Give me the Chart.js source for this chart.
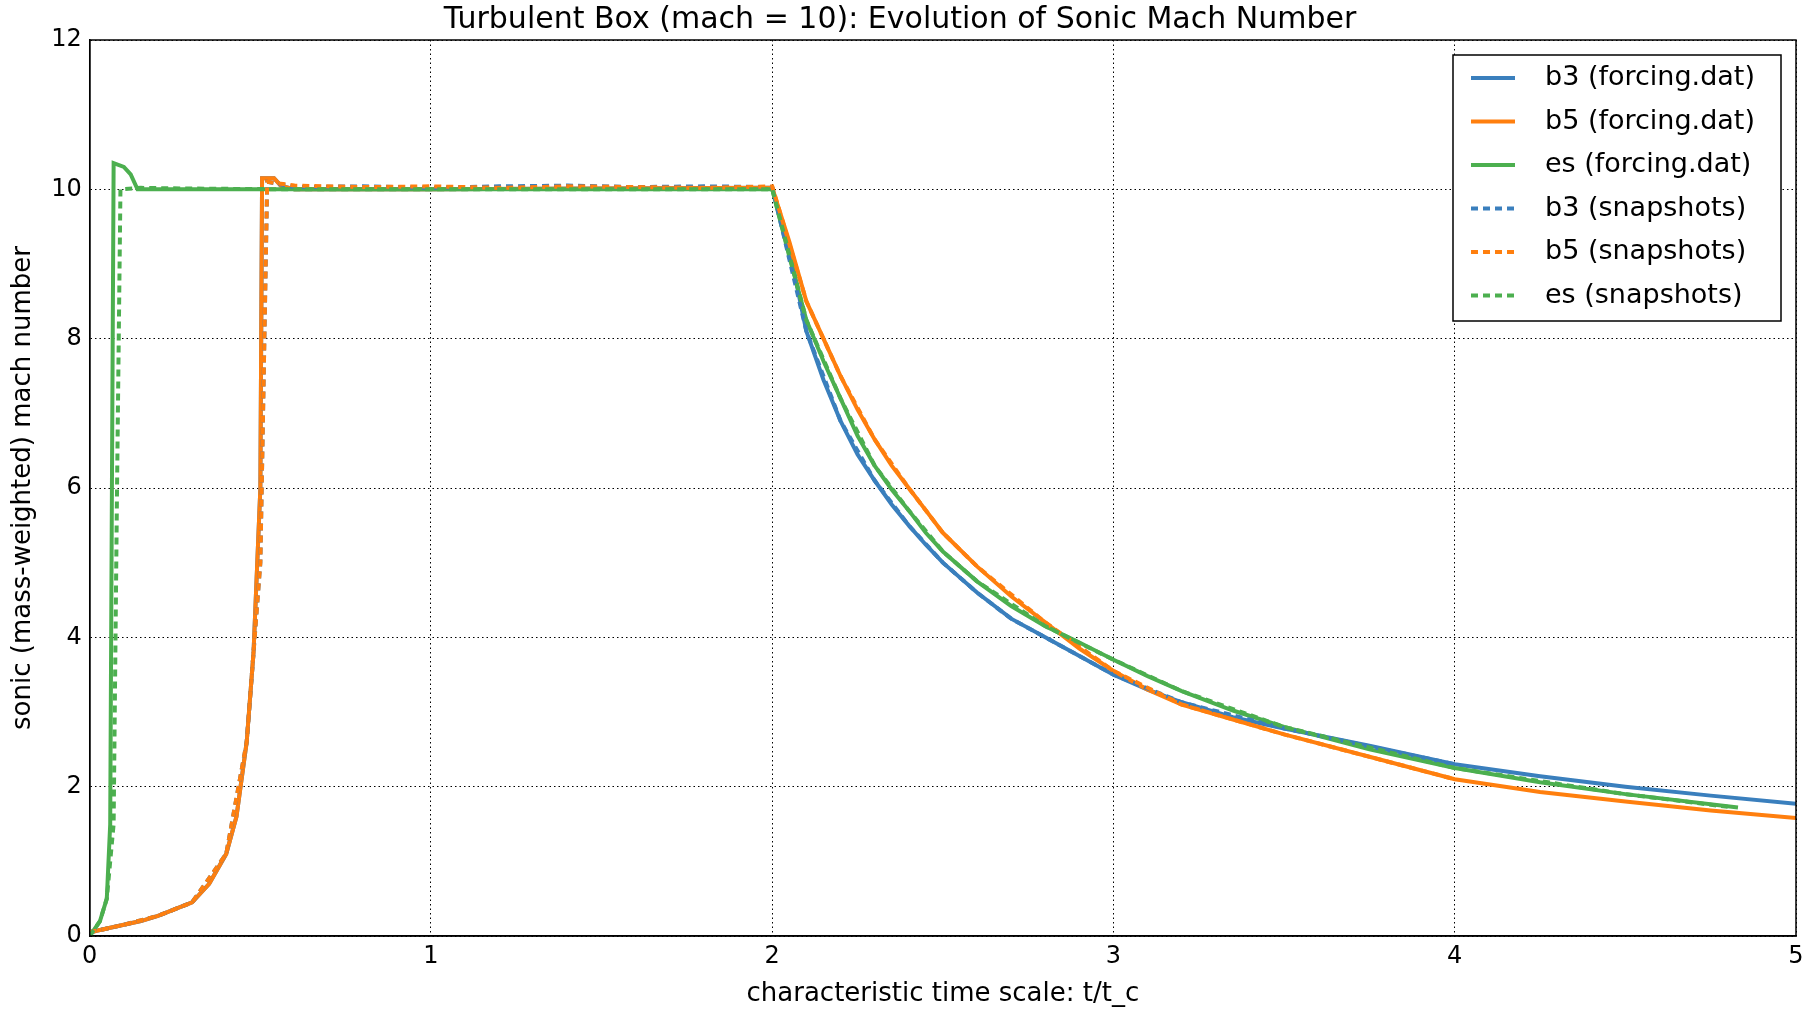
<!DOCTYPE html>
<html><head><meta charset="utf-8">
<script src="https://cdn.jsdelivr.net/npm/chart.js@4/dist/chart.umd.min.js"></script>
<style>html,body{margin:0;background:#fff}#wrap{width:1812px;height:1016px}</style>
</head><body><div id="wrap"><canvas id="c"></canvas></div>
<script>
const xTicks = [0, 1, 2, 3, 4, 5];
const yTicks = [0, 2, 4, 6, 8, 10, 12];

const b3Forcing = [[0,0.05],[0.1,0.15],[0.15,0.2],[0.2,0.27],[0.3,0.45],[0.35,0.7],[0.4,1.1],[0.43,1.6],[0.46,2.6],[0.48,3.8],[0.5,6],[0.505,10.15],[0.54,10.15],[0.56,10.05],[0.6,10.0],[1,10.0],[2,10.02],
  [2.05,9.2],[2.1,8.1],[2.15,7.45],[2.2,6.9],[2.25,6.45],[2.3,6.1],[2.35,5.78],[2.4,5.5],[2.45,5.24],[2.5,5.0],[2.6,4.6],[2.7,4.25],[2.8,4.0],[2.9,3.75],[3.0,3.5],[3.1,3.3],[3.2,3.13],[3.35,2.93],[3.5,2.78],[3.75,2.55],[4,2.3],[4.25,2.14],[4.5,2.0],[4.75,1.88],[5,1.77]];
const b5Forcing = [[0,0.05],[0.1,0.15],[0.15,0.2],[0.2,0.27],[0.3,0.45],[0.35,0.7],[0.4,1.1],[0.43,1.6],[0.46,2.6],[0.48,3.8],[0.5,6],[0.505,10.15],[0.54,10.15],[0.56,10.05],[0.6,10.0],[1,10.0],[2,10.02],
  [2.05,9.3],[2.1,8.5],[2.15,8.0],[2.2,7.5],[2.25,7.05],[2.3,6.65],[2.35,6.3],[2.4,6.0],[2.45,5.7],[2.5,5.4],[2.6,4.95],[2.7,4.55],[2.8,4.2],[2.9,3.85],[3.0,3.55],[3.1,3.3],[3.2,3.1],[3.35,2.9],[3.5,2.7],[3.75,2.4],[4,2.1],[4.25,1.93],[4.5,1.8],[4.75,1.68],[5,1.58]];
const esForcing = [[0,0],[0.03,0.2],[0.05,0.5],[0.06,1.5],[0.065,6],[0.07,10.35],[0.1,10.3],[0.12,10.2],[0.14,10.0],[2,10.0],
  [2.05,9.1],[2.1,8.25],[2.15,7.7],[2.2,7.2],[2.25,6.7],[2.3,6.3],[2.35,5.98],[2.4,5.7],[2.45,5.4],[2.5,5.15],[2.6,4.75],[2.7,4.42],[2.8,4.15],[2.9,3.93],[3.0,3.7],[3.1,3.48],[3.2,3.28],[3.35,3.02],[3.5,2.8],[3.75,2.5],[4,2.25],[4.25,2.06],[4.5,1.9],[4.83,1.72]];
const b3Snap = [[0,0.05],[0.1,0.15],[0.2,0.27],[0.3,0.45],[0.4,1.1],[0.46,2.6],[0.5,5],[0.52,10.1],[0.6,10.03],[0.8,10.04],[1.0,10.02],[1.2,10.04],[1.4,10.05],[1.6,10.03],[1.8,10.04],[2,10.03],
  [2.1,8.1],[2.2,6.9],[2.3,6.1],[2.4,5.5],[2.5,5.0],[2.6,4.6],[2.7,4.25],[2.8,4.0],[3.0,3.5],[3.2,3.13],[3.5,2.78],[4,2.3]];
const b5Snap = [[0,0.05],[0.1,0.15],[0.2,0.27],[0.3,0.45],[0.4,1.1],[0.46,2.6],[0.5,5],[0.52,10.1],[0.6,10.05],[0.8,10.03],[1.0,10.04],[1.2,10.02],[1.4,10.04],[1.6,10.03],[1.8,10.02],[2,10.04],
  [2.1,8.5],[2.2,7.5],[2.3,6.65],[2.4,6.0],[2.5,5.4],[2.6,4.95],[2.8,4.2],[3.0,3.55],[3.2,3.1],[3.5,2.7],[4,2.1]];
const esSnap = [[0,0],[0.03,0.2],[0.05,0.5],[0.07,1.5],[0.08,6],[0.09,10.0],[0.15,10.02],[0.3,10.01],[0.6,10.0],[1,10.0],[1.5,10.0],[2,10.0],
  [2.1,8.25],[2.2,7.2],[2.3,6.3],[2.4,5.7],[2.5,5.15],[2.6,4.75],[2.8,4.15],[3.0,3.7],[3.2,3.28],[3.5,2.8],[4,2.25],[4.5,1.9],[4.8,1.73]];

const blue = '#3a7fbd', orange = '#ff7f0e', green = '#4caf4f';
const pts = a => a.map(p => ({x: p[0], y: p[1]}));
const ds = (label, data, color, dash, order) => ({label, data: pts(data), borderColor: color, borderWidth: 4,
  borderDash: dash ? [7, 5] : [], pointRadius: 0, fill: false, tension: 0, order});

const legendBox = {
  id: 'legendBox',
  afterDraw(chart) {
    const {ctx, chartArea: a} = chart;
    const w = 328, h = 266, x = a.right - w - 15, y = a.top + 15;
    ctx.save();
    ctx.fillStyle = '#fff'; ctx.fillRect(x, y, w, h);
    ctx.strokeStyle = '#000'; ctx.lineWidth = 1.5; ctx.strokeRect(x, y, w, h);
    ctx.font = '27px "DejaVu Sans"'; ctx.textBaseline = 'middle';
    chart.data.datasets.forEach((d, i) => {
      const ly = y + 23 + i * 43.5;
      ctx.strokeStyle = d.borderColor; ctx.lineWidth = 4;
      ctx.setLineDash(d.borderDash); ctx.beginPath();
      ctx.moveTo(x + 18, ly); ctx.lineTo(x + 62, ly); ctx.stroke();
      ctx.setLineDash([]); ctx.fillStyle = '#000';
      ctx.fillText(d.label, x + 92, ly);
    });
    ctx.restore();
  }
};

new Chart(document.getElementById('c'), {
  type: 'line',
  data: {datasets: [
    ds('b3 (forcing.dat)', b3Forcing, blue, false, 6),
    ds('b5 (forcing.dat)', b5Forcing, orange, false, 5),
    ds('es (forcing.dat)', esForcing, green, false, 4),
    ds('b3 (snapshots)', b3Snap, blue, true, 3),
    ds('b5 (snapshots)', b5Snap, orange, true, 2),
    ds('es (snapshots)', esSnap, green, true, 1)
  ]},
  options: {
    responsive: true, maintainAspectRatio: false, animation: false,
    layout: {padding: {left: 4, right: 16, top: 0, bottom: 4}},
    plugins: {
      legend: {display: false}, tooltip: {enabled: false},
      title: {display: true, text: 'Turbulent Box (mach = 10): Evolution of Sonic Mach Number',
        color: '#000', font: {family: 'DejaVu Sans', size: 30, weight: 'normal'}, padding: {top: 2, bottom: 2}}
    },
    scales: {
      x: {type: 'linear', min: 0, max: 5,
        afterBuildTicks: s => { s.ticks = xTicks.map(v => ({value: v})); },
        ticks: {color: '#000', font: {family: 'DejaVu Sans', size: 24}, padding: 6},
        grid: {color: '#000', lineWidth: 1, drawTicks: false},
        border: {color: '#000', width: 1.5, dash: [1.5, 3]},
        title: {display: true, text: 'characteristic time scale: t/t_c', color: '#000', font: {family: 'DejaVu Sans', size: 26}, padding: 2}
      },
      y: {min: 0, max: 12,
        afterBuildTicks: s => { s.ticks = yTicks.map(v => ({value: v})); },
        ticks: {color: '#000', font: {family: 'DejaVu Sans', size: 24}, padding: 8},
        grid: {color: '#000', lineWidth: 1, drawTicks: false},
        border: {color: '#000', width: 1.5, dash: [1.5, 3]},
        title: {display: true, text: 'sonic (mass-weighted) mach number', color: '#000', font: {family: 'DejaVu Sans', size: 26}, padding: 4}
      }
    }
  },
  plugins: [legendBox, {
    id: 'frame',
    afterDatasetsDraw(chart) {
      const {ctx, chartArea: a} = chart;
      ctx.save(); ctx.strokeStyle = '#000'; ctx.lineWidth = 1.5;
      ctx.strokeRect(a.left, a.top, a.right - a.left, a.bottom - a.top); ctx.restore();
    }
  }]
});
</script></body></html>
